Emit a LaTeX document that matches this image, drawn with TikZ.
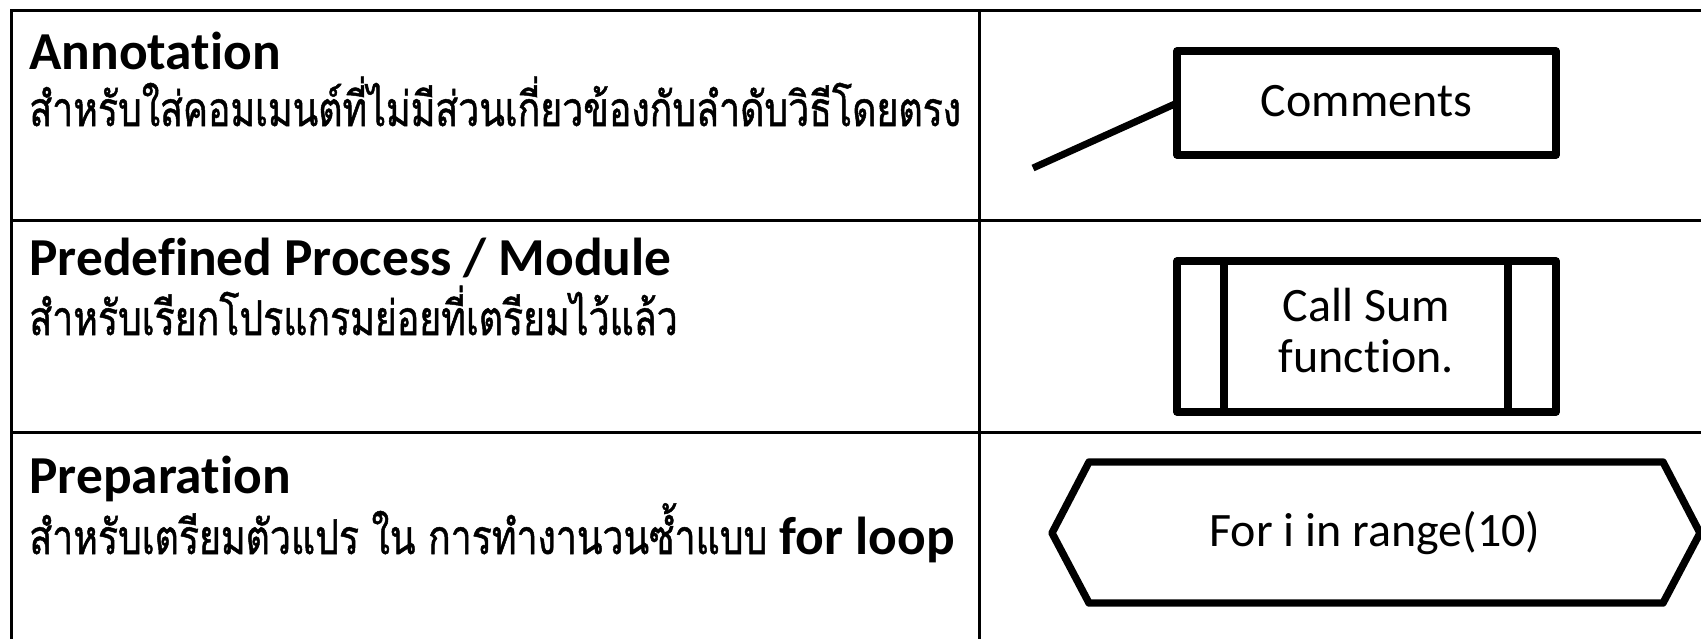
\documentclass[tikz,border=0pt]{standalone}
\usepackage{fontspec}
\setmainfont{Carlito}[Ligatures=NoCommon]
\newfontfamily\thaifont[Script=Thai, FakeStretch=0.78, FakeBold=1]{Loma}
\begin{document}
\begin{tikzpicture}[x=0.5pt,y=-0.5pt,
  rule/.style={line width=1.5pt},
  symline/.style={line width=3.7pt, line join=round},
  title/.style={anchor=base west, inner sep=0pt, font=\fontsize{26.7}{30}\selectfont\bfseries},
  desc/.style={anchor=base west, inner sep=0pt, font=\fontsize{24}{28}\selectfont\thaifont},
  symtext/.style={inner sep=0pt, outer sep=0pt, align=center, font=\fontsize{24}{25.5}\selectfont}]
\useasboundingbox (0,0) rectangle (1701,639);
\clip (0,0) rectangle (1701,639);

% table rules
\coordinate (tl) at (11,10);
\coordinate (tr) at (1701,10);
\coordinate (bl) at (11,639);
\coordinate (ct) at (979,10);
\coordinate (cb) at (979,639);
\coordinate (r1l) at (11,220);
\coordinate (r1r) at (1701,220);
\coordinate (r2l) at (11,432);
\coordinate (r2r) at (1701,432);
\draw[rule] (tr) -- (tl) -- (bl);
\draw[rule] (r1l) -- (r1r);
\draw[rule] (r2l) -- (r2r);
\draw[rule] (ct) -- (cb);

% left column: names and descriptions
\node[title] (t1) at (29,69) {Annotation};
\node[desc] (d1) at (29,126) {สำหรับใส่คอมเมนต์ที่ไม่มีส่วนเกี่ยวข้องกับลำดับวิธีโดยตรง};
\node[title] (t2) at (29,275) {Predefined Process / Module};
\node[desc] (d2) at (29,335) {สำหรับเรียกโปรแกรมย่อยที่เตรียมไว้แล้ว};
\node[title] (t3) at (29,493) {Preparation};
\node[desc] (d3) at (29,554) {สำหรับเตรียมตัวแปร ใน การทำงานวนซ้ำแบบ {\normalfont\bfseries\fontsize{26.7}{30}\selectfont for loop}};

% annotation symbol
\node[draw, symline, symtext, minimum width=189.5pt, minimum height=52pt] (cmt) at (1366.5,103) {\raisebox{2pt}{Comments}};
\coordinate (tail) at (1033,168);
\draw[line width=3.5pt] (tail) -- (cmt.west);

% predefined process symbol
\node[draw, symline, symtext, minimum width=189.5pt, minimum height=75.5pt] (pp) at (1366.5,336.5) {\raisebox{1.5pt}{\begin{tabular}{@{}c@{}}Call Sum\\function.\end{tabular}}};
\draw[symline] ([xshift=23.5pt]pp.north west) -- ([xshift=23.5pt]pp.south west);
\draw[symline] ([xshift=-24pt]pp.north east) -- ([xshift=-24pt]pp.south east);

% preparation symbol
\node[symtext] (loop) at (1375,533) {For i in range(10)};
\draw[symline] (1052,533) -- (1089,462) -- (1663,462) -- (1700,533) -- (1663,603) -- (1089,603) -- cycle;
\end{tikzpicture}
\end{document}
